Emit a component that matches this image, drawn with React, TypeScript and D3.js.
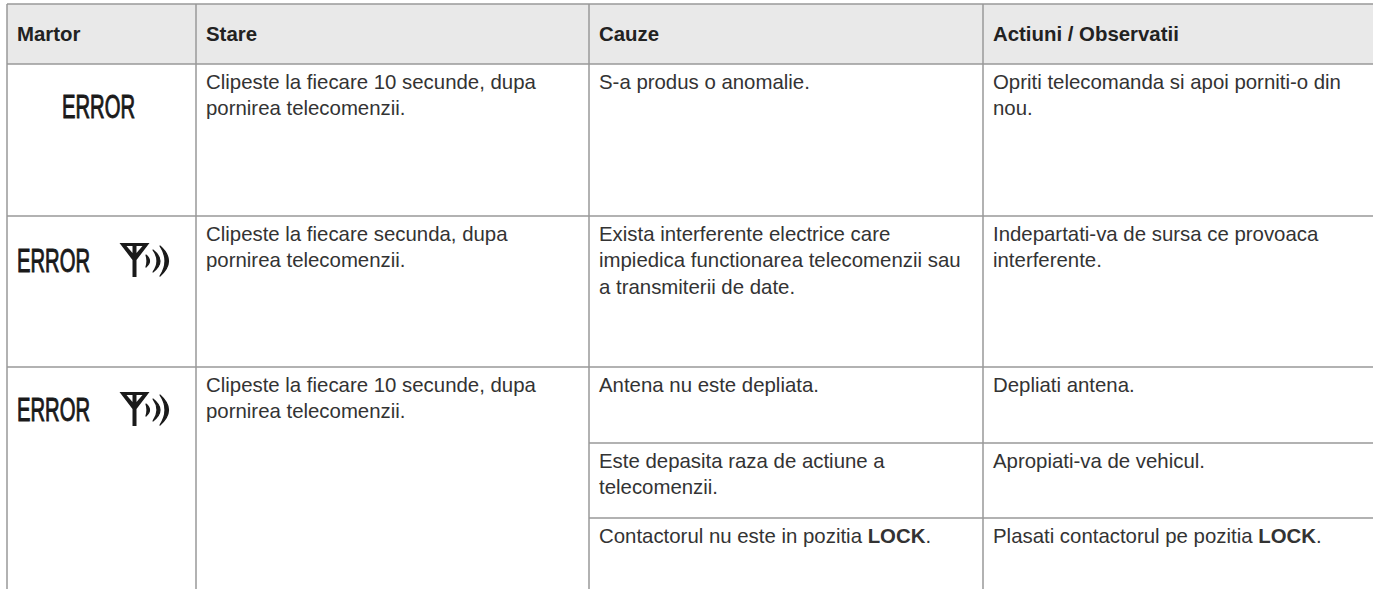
import React from 'react'
import * as d3 from 'd3'

const headers = ['Martor', 'Stare', 'Cauze', 'Actiuni / Observatii']

const stateTexts = [
  ['Clipeste la fiecare 10 secunde, dupa', 'pornirea telecomenzii.'],
  ['Clipeste la fiecare secunda, dupa', 'pornirea telecomenzii.'],
  ['Clipeste la fiecare 10 secunde, dupa', 'pornirea telecomenzii.'],
]

const causeTexts = [
  ['S-a produs o anomalie.'],
  ['Exista interferente electrice care', 'impiedica functionarea telecomenzii sau', 'a transmiterii de date.'],
  ['Antena nu este depliata.'],
  ['Este depasita raza de actiune a', 'telecomenzii.'],
  ['Contactorul nu este in pozitia **LOCK**.'],
]

const actionTexts = [
  ['Opriti telecomanda si apoi porniti-o din', 'nou.'],
  ['Indepartati-va de sursa ce provoaca', 'interferente.'],
  ['Depliati antena.'],
  ['Apropiati-va de vehicul.'],
  ['Plasati contactorul pe pozitia **LOCK**.'],
]

const W = 1373
const H = 589
const columnEdges = [7, 196, 589, 983, 1373]
const rowEdges = [4, 64, 216, 367, 443, 518, 589]

const lineColor = '#999999'
const textColor = '#333333'
const iconColor = '#1a1a1a'
const font = '"Liberation Sans", Arial, sans-serif'
const fontSize = 20.4
const lineHeight = 26.5

const rowIndex = d3.scaleOrdinal<number, number>().domain(d3.range(rowEdges.length)).range(rowEdges)
const colIndex = d3.scaleOrdinal<number, number>().domain(d3.range(columnEdges.length)).range(columnEdges)

const Rich = ({ text, x, y }: { text: string; x: number; y: number }) => {
  const parts = text.split('**')
  return (
    <text x={x} y={y} fontFamily={font} fontSize={fontSize} fill={textColor}>
      {parts.map((p, i) => (
        <tspan key={i} fontWeight={i % 2 ? 'bold' : 'normal'}>{p}</tspan>
      ))}
    </text>
  )
}

const Cell = ({ lines, col, row }: { lines: string[]; col: number; row: number }) => (
  <g>
    {lines.map((l, i) => (
      <Rich key={i} text={l} x={colIndex(col) + 10} y={rowIndex(row) + 24.5 + i * lineHeight} />
    ))}
  </g>
)

const ErrorLabel = ({ x, y }: { x: number; y: number }) => (
  <text
    x={x}
    y={y}
    fontFamily={font}
    fontSize={33}
    stroke={iconColor}
    strokeWidth={1}
    fill={iconColor}
    textLength={73}
    lengthAdjust="spacingAndGlyphs"
  >
    ERROR
  </text>
)

// antenna with three radio arcs, x/y = foot of the mast
const Antenna = ({ x, y }: { x: number; y: number }) => {
  const mast = d3.path()
  mast.moveTo(x - 2, y)
  mast.lineTo(x + 2, y)
  mast.lineTo(x + 2, y - 17)
  mast.lineTo(x + 15, y - 34)
  mast.lineTo(x - 15, y - 34)
  mast.lineTo(x - 2, y - 17)
  mast.closePath()
  const slit = (side: number) => {
    const p = d3.path()
    p.moveTo(x + side * 2, y - 31)
    p.lineTo(x + side * 8, y - 31)
    p.lineTo(x + side * 2, y - 24)
    p.closePath()
    return p.toString()
  }
  // crescents: dx = tips from the mast, sag = bulge, w = thickness, h = half height
  const crescents = [
    { dx: 11.5, sag: 3.5, w: 2.5, h: 6 },
    { dx: 18.5, sag: 7, w: 3, h: 11 },
    { dx: 25.5, sag: 8.5, w: 3.5, h: 15 },
  ]
  const cy = y - 16
  const crescent = (c: { dx: number; sag: number; w: number; h: number }) => {
    const p = d3.path()
    p.moveTo(x + c.dx, cy - c.h)
    p.quadraticCurveTo(x + c.dx + 2 * c.sag, cy, x + c.dx, cy + c.h)
    p.quadraticCurveTo(x + c.dx + 2 * (c.sag - c.w), cy, x + c.dx, cy - c.h)
    p.closePath()
    return p.toString()
  }
  return (
    <g>
      <path d={mast.toString()} fill={iconColor} />
      <path d={slit(-1)} fill="#fff" />
      <path d={slit(1)} fill="#fff" />
      {crescents.map((c, i) => (
        <path key={i} d={crescent(c)} fill={iconColor} stroke={iconColor} strokeWidth={1.2} strokeLinejoin="round" />
      ))}
    </g>
  )
}

export default function App() {
  return (
    <svg
      width={W}
      height={H}
      style={{ position: 'absolute', left: 0, top: 0, background: '#fff' }}
    >
      <rect x={7} y={4} width={W - 7} height={60} fill="#e9e9e9" />
      {headers.map((h, i) => (
        <text
          key={h}
          x={colIndex(i) + 10}
          y={41}
          fontFamily={font}
          fontSize={fontSize}
          fontWeight="bold"
          fill="#222222"
        >
          {h}
        </text>
      ))}

      {stateTexts.map((t, i) => (
        <Cell key={i} lines={t} col={1} row={i + 1} />
      ))}
      {causeTexts.map((t, i) => (
        <Cell key={i} lines={t} col={2} row={i + 1} />
      ))}
      {actionTexts.map((t, i) => (
        <Cell key={i} lines={t} col={3} row={i + 1} />
      ))}

      <ErrorLabel x={62} y={118} />
      <ErrorLabel x={17} y={272} />
      <Antenna x={134.5} y={277} />
      <ErrorLabel x={17} y={421} />
      <Antenna x={134.5} y={426} />

      <g stroke={lineColor} strokeWidth={1.5} fill="none">
        {columnEdges.slice(0, 4).map((x, i) => (
          <line key={i} x1={x} x2={x} y1={4} y2={H} />
        ))}
        <line x1={7} x2={W} y1={4} y2={4} />
        <line x1={7} x2={W} y1={64} y2={64} />
        <line x1={7} x2={W} y1={216} y2={216} />
        <line x1={7} x2={W} y1={367} y2={367} />
        <line x1={589} x2={W} y1={443} y2={443} />
        <line x1={589} x2={W} y1={518} y2={518} />
      </g>
    </svg>
  )
}
